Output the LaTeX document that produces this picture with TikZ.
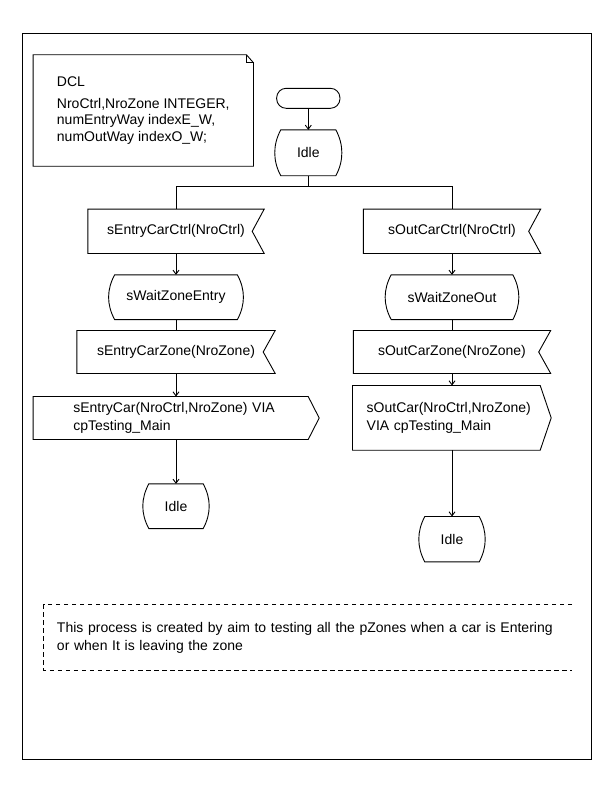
\documentclass[tikz,border=0pt]{standalone}
\usepackage{fontspec}
\setmainfont{Liberation Sans}
\usetikzlibrary{arrows.meta}

% outline helpers: each one traces an SDL symbol around a named node
\newcommand\sdlInput[1]{%
  \draw[sdl] (#1.north west) -- (#1.north east) -- ([xshift=-12bp]#1.east)
    -- (#1.south east) -- (#1.south west) -- cycle;}
\newcommand\sdlOutput[1]{%
  \draw[sdl] (#1.north west) -- (#1.north east) -- ([xshift=11bp]#1.east)
    -- (#1.south east) -- (#1.south west) -- cycle;}
\newcommand\sdlState[1]{%
  \draw[sdl] ([xshift=6bp]#1.north west) -- ([xshift=-6bp]#1.north east)
    .. controls ([xshift=2bp,yshift=-15bp]#1.north east) and ([xshift=2bp,yshift=15bp]#1.south east)
    .. ([xshift=-6bp]#1.south east) -- ([xshift=6bp]#1.south west)
    .. controls ([xshift=-2bp,yshift=15bp]#1.south west) and ([xshift=-2bp,yshift=-15bp]#1.north west)
    .. ([xshift=6bp]#1.north west) -- cycle;}
\newcommand\sdlNote[1]{%
  \draw[sdl] (#1.north west) -- ([xshift=-7bp]#1.north east) -- ([yshift=-8bp]#1.north east)
    -- (#1.south east) -- (#1.south west) -- cycle;
  \draw[sdl] ([xshift=-7bp]#1.north east) -- ([xshift=-7bp,yshift=-8bp]#1.north east)
    -- ([yshift=-8bp]#1.north east);}

\begin{document}
\begin{tikzpicture}[x=1bp,y=-1bp,
  every node/.style={font=\fontsize{14bp}{18bp}\selectfont, inner sep=0pt},
  sdl/.style={line width=0.9bp, line join=miter},
  flow/.style={sdl, -{Straight Barb[length=4bp,width=6bp]}},
  link/.style={sdl},
  symbol/.style={rectangle, inner sep=0pt},
  remark/.style={sdl, dash pattern=on 4.5bp off 3.5bp}]

\useasboundingbox (0,0) rectangle (612,792);

% page frame
\draw[sdl] (22,33) rectangle (591,759);

% declarations
\node[symbol, minimum width=220bp, minimum height=111bp, align=left,
      font=\fontsize{14bp}{16.7bp}\selectfont] (dcl) at (143.3,110.5)
  {DCL\\[5bp]NroCtrl,NroZone INTEGER,\\numEntryWay indexE\_W,\\numOutWay indexO\_W;};
\sdlNote{dcl}

% start and first state
\node[symbol, draw, sdl, rounded corners=9.5bp, minimum width=63.3bp, minimum height=20bp]
  (start) at (308.3,98.3) {};
\node[symbol, minimum width=66.7bp, minimum height=45.5bp] (idle0) at (308.3,152.8) {Idle};
\sdlState{idle0}

% left branch
\node[symbol, minimum width=176bp, minimum height=44bp] (in1) at (176,231.3) {sEntryCarCtrl(NroCtrl)};
\sdlInput{in1}
\node[symbol, minimum width=134.4bp, minimum height=44.3bp] (wait1) at (176,297.2) {sWaitZoneEntry};
\sdlState{wait1}
\node[symbol, minimum width=198bp, minimum height=42.6bp] (in2) at (176,352) {sEntryCarZone(NroZone)};
\sdlInput{in2}
\node[symbol, minimum width=274.7bp, minimum height=42.6bp, text width=194.7bp, inner xsep=40bp,
      align=left] (out1) at (170.65,418) {sEntryCar(NroCtrl,NroZone)~VIA\\cpTesting\_Main};
\sdlOutput{out1}
\node[symbol, minimum width=66bp, minimum height=44.3bp] (idle1) at (176,506.2) {Idle};
\sdlState{idle1}

% right branch
\node[symbol, minimum width=177bp, minimum height=44bp] (in3) at (452,231.3) {sOutCarCtrl(NroCtrl)};
\sdlInput{in3}
\node[symbol, minimum width=133.3bp, minimum height=44.3bp] (wait2) at (452,297.2) {sWaitZoneOut};
\sdlState{wait2}
\node[symbol, minimum width=197bp, minimum height=42.6bp] (in4) at (452,352) {sOutCarZone(NroZone)};
\sdlInput{in4}
\node[symbol, minimum width=187.3bp, minimum height=64.3bp, text width=159.3bp, inner xsep=14bp,
      align=left] (out2) at (446.35,417.85) {sOutCar(NroCtrl,NroZone)\\VIA cpTesting\_Main};
\sdlOutput{out2}
\node[symbol, minimum width=66bp, minimum height=45bp] (idle2) at (452,539.2) {Idle};
\sdlState{idle2}

% connectors
\coordinate (brL) at (176,186.7);
\coordinate (brR) at (452,186.7);
\draw[flow] (start) -- (idle0);
\draw[link] (idle0.south) -- (idle0.south |- brL);
\draw[link] (in1.north) -- (brL) -- (brR) -- (in3.north);

\draw[flow] (in1) -- (wait1);
\draw[link] (wait1) -- (in2);
\draw[flow] (in2.south) -- (in2.south |- out1.north);
\draw[flow] (out1.south -| idle1.north) -- (idle1.north);

\draw[flow] (in3) -- (wait2);
\draw[link] (wait2) -- (in4);
\draw[flow] (in4.south) -- (in4.south |- out2.north);
\draw[flow] (out2.south -| idle2.north) -- (idle2.north);

% comment
\node[symbol, minimum width=528bp, minimum height=65bp, text width=502bp, inner xsep=13bp,
      align=left] (note) at (308,637.5)
  {This process is created by aim to testing all the pZones when a car is Entering\\or when It is leaving the zone};
\draw[remark] (note.north east) -- (note.north west) -- (note.south west) -- (note.south east);

\end{tikzpicture}
\end{document}
